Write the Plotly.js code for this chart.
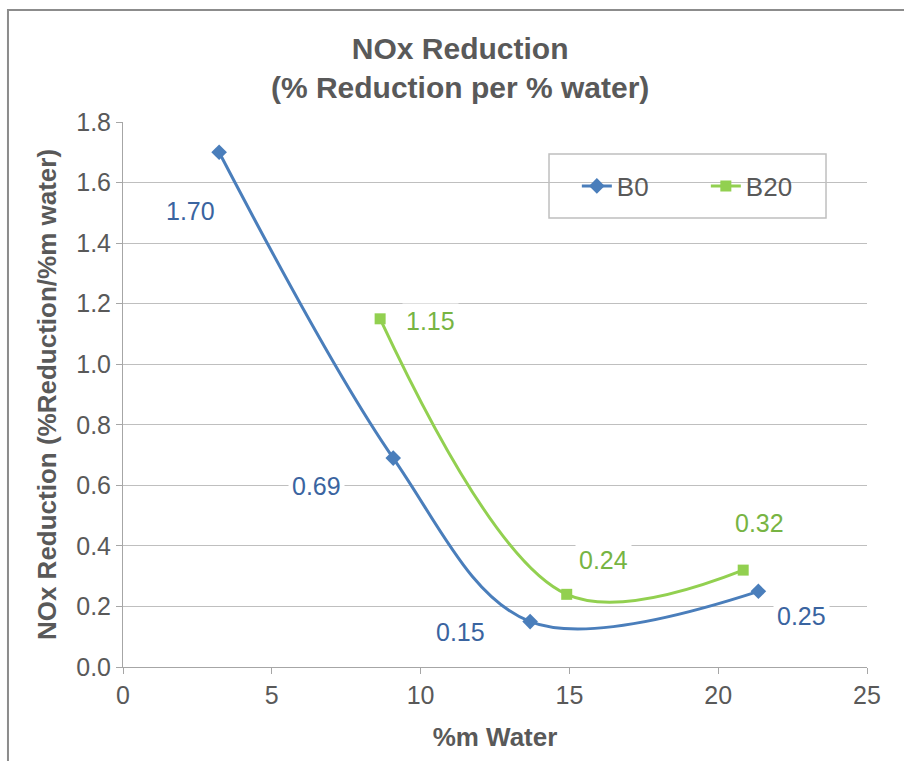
<!DOCTYPE html>
<html>
<head>
<meta charset="utf-8">
<script src="https://cdn.plot.ly/plotly-3.0.1.min.js"></script>
<style>
  html, body { margin: 0; padding: 0; background: #fff; }
  #chart { width: 904px; height: 761px; }
</style>
</head>
<body>
<div id="chart"></div>
<script>
// %m water content vs. NOx reduction per % water
const b0Water = [3.23, 9.08, 13.68, 21.35];
const b0Reduction = [1.70, 0.69, 0.15, 0.25];
const b20Water = [8.64, 14.91, 20.84];
const b20Reduction = [1.15, 0.24, 0.32];

// label offsets (pixels) for each data label
const b0LabelShift = [[-29, -59], [-77, -28], [-70, -10], [43, -25]];
const b20LabelShift = [[50, -2], [37, 34], [16, 47]];

const blue = '#4A7EBB', green = '#92D050';
const blueText = '#3A64A0', greenText = '#77B443';
const grey = '#595959';
const fontFamily = 'Liberation Sans, Arial, sans-serif';

const traces = [
  {
    x: b0Water, y: b0Reduction, name: 'B0', mode: 'lines+markers', type: 'scatter',
    line: { color: blue, width: 3, shape: 'spline', smoothing: 1 },
    marker: { symbol: 'diamond', size: 12, color: blue }
  },
  {
    x: b20Water, y: b20Reduction, name: 'B20', mode: 'lines+markers', type: 'scatter',
    line: { color: green, width: 3, shape: 'spline', smoothing: 1 },
    marker: { symbol: 'square', size: 11, color: green }
  }
];

function labels(xs, ys, shifts, color) {
  return xs.map((x, i) => ({
    x: x, y: ys[i], xref: 'x', yref: 'y', showarrow: false,
    text: ys[i].toFixed(2),
    xshift: shifts[i][0], yshift: shifts[i][1],
    bgcolor: '#ffffff', borderpad: 3,
    font: { family: fontFamily, size: 25, color: color }
  }));
}

const annotations = labels(b0Water, b0Reduction, b0LabelShift, blueText)
  .concat(labels(b20Water, b20Reduction, b20LabelShift, greenText));

const layout = {
  width: 904, height: 761,
  margin: { l: 123, r: 37, t: 122, b: 94 },
  paper_bgcolor: '#ffffff', plot_bgcolor: '#ffffff',
  font: { family: fontFamily, color: grey },
  title: {
    text: '<b>NOx Reduction<br>(% Reduction per % water)</b>',
    x: 0.509, xanchor: 'center', y: 0.923, yanchor: 'top', yref: 'container',
    font: { size: 30, color: grey }
  },
  xaxis: {
    range: [0, 25], dtick: 5, tick0: 0,
    showgrid: false, zeroline: false,
    showline: true, linecolor: '#A6A6A6', linewidth: 1,
    ticks: 'outside', ticklen: 6, tickcolor: '#A6A6A6',
    tickfont: { size: 25, color: grey },
    title: { text: '<b>%m Water</b>', font: { size: 26, color: grey }, standoff: 19 }
  },
  yaxis: {
    range: [0, 1.8], dtick: 0.2, tick0: 0, tickformat: '.1f',
    showgrid: true, gridcolor: '#BFBFBF', gridwidth: 1, zeroline: false,
    showline: true, linecolor: '#A6A6A6', linewidth: 1,
    ticks: 'outside', ticklen: 6, tickcolor: '#A6A6A6',
    tickfont: { size: 25, color: grey },
    title: { text: '<b>NOx Reduction (%Reduction/%m water)</b>', font: { size: 26, color: grey }, standoff: 12 }
  },
  showlegend: true,
  legend: {
    orientation: 'h', x: 0.61, xanchor: 'left', y: 0.8826, yanchor: 'middle',
    bgcolor: 'rgba(0,0,0,0)', borderwidth: 0,
    font: { size: 26, color: grey }, entrywidth: 84, entrywidthmode: 'pixels'
  },
  annotations: annotations,
  shapes: [
    // legend frame
    { type: 'rect', xref: 'paper', yref: 'paper',
      x0: 0.5726, x1: 0.9449, y0: 0.8239, y1: 0.9413,
      line: { color: '#BFBFBF', width: 1.5 }, fillcolor: '#ffffff', layer: 'below' },
    // outer chart frame
    { type: 'rect', xref: 'paper', yref: 'paper',
      x0: -0.1546, x1: 1.2, y0: -0.25, y1: 1.2055,
      line: { color: '#8C8C8C', width: 2 }, fillcolor: 'rgba(0,0,0,0)' }
  ]
};

Plotly.newPlot('chart', traces, layout, { displayModeBar: false, staticPlot: true });
</script>
</body>
</html>
